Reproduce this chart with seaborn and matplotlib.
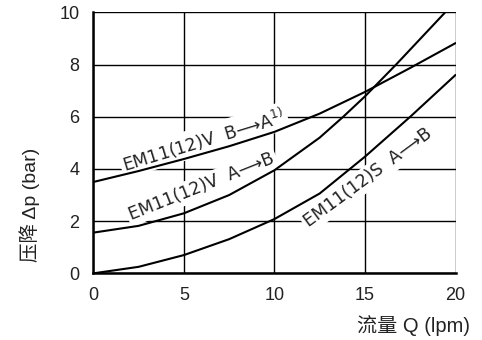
import matplotlib
matplotlib.use("Agg")
import matplotlib.pyplot as plt
import seaborn as sns
import pandas as pd

# Flow Q (lpm) and pressure drop Δp (bar) for each valve path
q_v_ba = [0, 2.5, 5, 7.5, 10, 12.5, 15, 17.5, 20]
dp_v_ba = [3.5, 3.92, 4.38, 4.87, 5.42, 6.12, 6.95, 7.87, 8.82]

q_v_ab = [0, 2.5, 5, 7.5, 10, 12.5, 13.8, 15, 16.72, 19.43]
dp_v_ab = [1.56, 1.82, 2.3, 3.0, 3.95, 5.2, 6.0, 6.78, 8.0, 10.0]

q_s_ab = [0, 2.5, 5, 7.5, 10, 12.5, 15, 17.5, 20]
dp_s_ab = [0, 0.25, 0.7, 1.31, 2.08, 3.06, 4.47, 6.0, 7.6]

x_ticks = [0, 5, 10, 15, 20]
y_ticks = [0, 2, 4, 6, 8, 10]

series_names = ["EM11(12)V B→A", "EM11(12)V A→B", "EM11(12)S A→B"]

df = pd.concat([
    pd.DataFrame({"Q": q_v_ba, "dp": dp_v_ba, "path": series_names[0]}),
    pd.DataFrame({"Q": q_v_ab, "dp": dp_v_ab, "path": series_names[1]}),
    pd.DataFrame({"Q": q_s_ab, "dp": dp_s_ab, "path": series_names[2]}),
])

sns.set_style("white")
plt.rcParams["font.family"] = ["Liberation Sans", "Noto Sans CJK SC", "DejaVu Sans"]
plt.rcParams["mathtext.fontset"] = "custom"
plt.rcParams["mathtext.rm"] = "DejaVu Sans"

fig = plt.figure(figsize=(4.82, 3.40), dpi=100)
ax = fig.add_axes([0.1936, 0.196, 0.7515, 0.7678])

# grid lines at every tick position
for xv in x_ticks:
    ax.axvline(xv, color="black", lw=1.0, zorder=1)
for yv in y_ticks:
    ax.axhline(yv, color="black", lw=1.0, zorder=1)

sns.lineplot(data=df, x="Q", y="dp", hue="path", units="path", estimator=None,
             palette=["black"] * 3, legend=False, lw=1.5, sort=False, ax=ax, zorder=3)

ax.set_xlim(0, 20)
ax.set_ylim(0, 10)
ax.set_xticks(x_ticks)
ax.set_yticks(y_ticks)
ax.tick_params(axis="both", direction="out", length=7.5, width=1.0, color="black",
               labelsize=13, pad=2.5, labelcolor="#222222")
for side in ["top", "right"]:
    ax.spines[side].set_visible(False)
for side in ["left", "bottom"]:
    ax.spines[side].set_linewidth(1.8)
    ax.spines[side].set_color("black")
    ax.spines[side].set_zorder(4)

ax.set_xlabel("")
ax.set_ylabel("")

lab_font = ["DejaVu Sans"]
box = dict(boxstyle="square,pad=0.15", facecolor="white", edgecolor="none")
ax.text(6.1, 5.1, "EM11(12)V  B⟶A$^{1)}$", rotation=17,
        rotation_mode="anchor", ha="center", va="center", fontsize=12.5,
        family=lab_font, color="#222222", bbox=box, zorder=2)
ax.text(5.99, 3.32, "EM11(12)V  A⟶B", rotation=21.8, rotation_mode="anchor",
        ha="center", va="center", fontsize=12.5, family=lab_font,
        color="#222222", bbox=box, zorder=2)
ax.text(15.18, 3.67, "EM11(12)S  A⟶B", rotation=36.4, rotation_mode="anchor",
        ha="center", va="center", fontsize=12.5, family=lab_font,
        color="#222222", bbox=box, zorder=2)

ax.text(-0.175, 0.262, "压降 Δp (bar)", transform=ax.transAxes, rotation=90,
        ha="center", va="center", fontsize=14, color="#222222")
ax.text(1.04, -0.2, "流量 Q (lpm)", transform=ax.transAxes,
        ha="right", va="center", fontsize=14.5, color="#222222")

fig.savefig("out.png", dpi=100)
